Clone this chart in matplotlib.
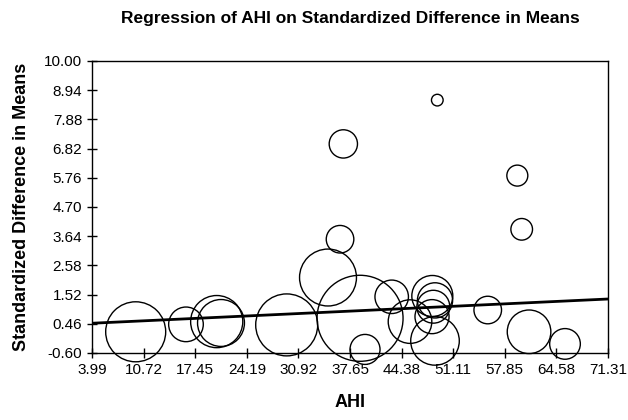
import numpy as np
import matplotlib
matplotlib.use('Agg')
from matplotlib import pyplot as plt

plt.rcParams['font.family'] = ['Liberation Sans Narrow', 'Liberation Sans', 'DejaVu Sans']

# study points: AHI, standardized difference in means, relative weight
ahi = [9.69, 16.25, 20.26, 20.82, 29.39, 34.78, 36.35, 36.78, 38.96, 39.61,
       43.09, 45.48, 48.39, 48.74, 48.52, 48.35, 48.74, 49.04, 55.62, 59.48,
       60.05, 61.01, 65.70]
sdm = [0.17, 0.44, 0.54, 0.49, 0.42, 2.14, 3.53, 6.99, 0.66, -0.47,
       1.44, 0.54, 1.47, 1.31, 1.08, 0.72, -0.16, 8.58, 0.96, 5.84,
       3.89, 0.17, -0.27]
weight = [9.0, 3.0, 6.8, 5.5, 9.6, 8.1, 1.9, 2.0, 18.5, 2.25,
          2.8, 4.75, 4.2, 3.1, 2.7, 2.9, 5.9, 0.34, 1.9, 1.1,
          1.17, 4.75, 2.35]

# regression line
intercept = 0.428
slope = 0.01307

xticks = [3.99, 10.72, 17.45, 24.19, 30.92, 37.65, 44.38, 51.11, 57.85, 64.58, 71.31]
yticks = [-0.60, 0.46, 1.52, 2.58, 3.64, 4.70, 5.76, 6.82, 7.88, 8.94, 10.00]

fig = plt.figure(figsize=(6.28, 4.2), dpi=100)
ax = fig.add_axes([92/628, 1-353/420, 516/628, 292/420])

# bubble area ~ weight; radius in px = 10*sqrt(w), 1px = 0.72pt
sizes = [(1.44 * 10 * np.sqrt(w))**2 for w in weight]
ax.scatter(ahi, sdm, s=sizes, facecolors='none', edgecolors='black',
           linewidths=1.0, clip_on=False, zorder=3)

xl = np.array([xticks[0], xticks[-1]])
ax.plot(xl, intercept + slope*xl, color='black', lw=2, zorder=4)

ax.set_xlim(xticks[0], xticks[-1])
ax.set_ylim(yticks[0], yticks[-1])
ax.set_xticks(xticks)
ax.set_yticks(yticks)
ax.set_xticklabels(['%.2f' % v for v in xticks])
ax.set_yticklabels(['%.2f' % v for v in yticks])
ax.tick_params(axis='both', direction='inout', length=7, width=1, labelsize=11, colors='black')
ax.tick_params(axis='x', pad=4)
for sp in ax.spines.values():
    sp.set_linewidth(1)

ax.set_title('Regression of AHI on Standardized Difference in Means',
             fontsize=12.5, fontweight='bold', pad=27)
ax.set_xlabel('AHI', fontsize=13, fontweight='bold', labelpad=12)
ax.set_ylabel('Standardized Difference in Means', fontsize=13, fontweight='bold', labelpad=10)

fig.savefig('out.png', dpi=100)
